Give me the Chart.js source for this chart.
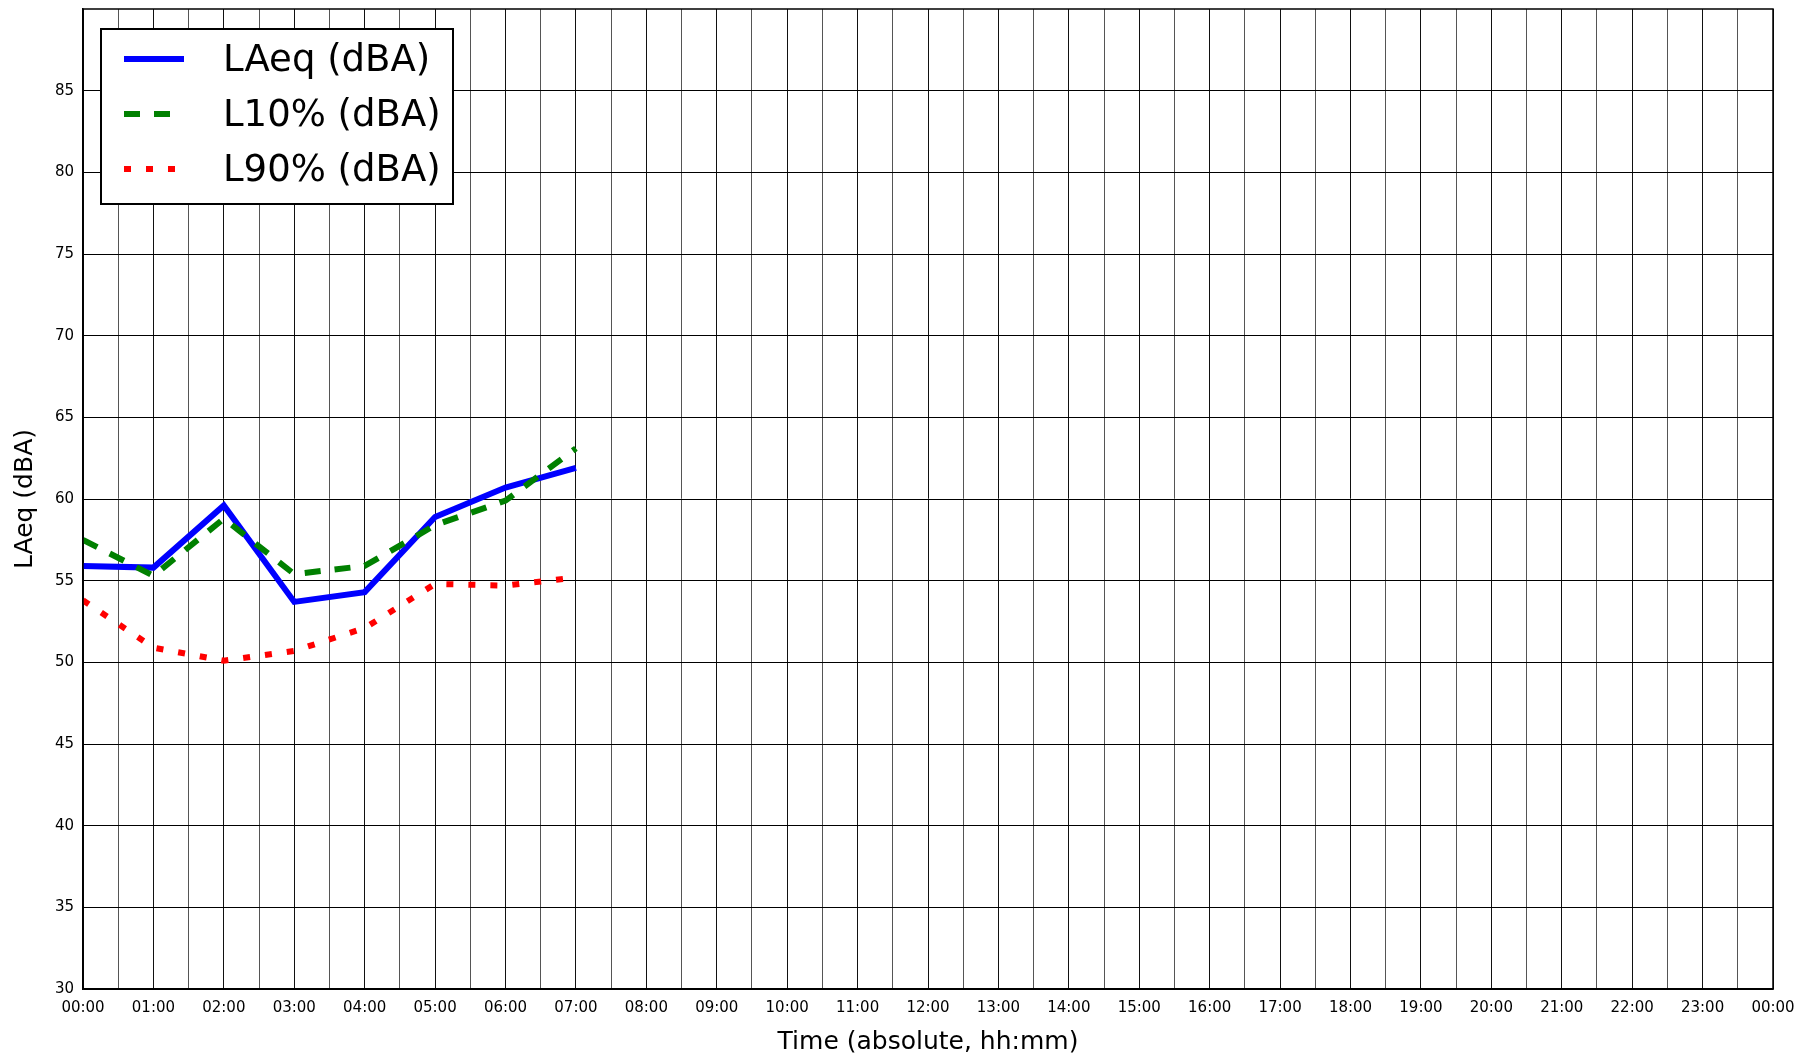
<!DOCTYPE html>
<html>
<head>
<meta charset="utf-8">
<title>LAeq</title>
<script src="https://cdn.jsdelivr.net/npm/chart.js"></script>
<style>
  html, body { margin: 0; padding: 0; background: #fff; }
  canvas { display: block; }
</style>
</head>
<body>
<canvas id="noiseChart" width="1811" height="1056"></canvas>
<script>
  // Measured levels, one sample per hour
  const sampleTimes = ['00:00', '01:00', '02:00', '03:00', '04:00', '05:00', '06:00', '07:00'];
  const laeqValues = [55.9, 55.8, 59.6, 53.7, 54.3, 58.9, 60.7, 61.9];
  const l10Values = [57.5, 55.3, 58.8, 55.4, 55.9, 58.4, 59.9, 63.1];
  const l90Values = [53.8, 50.9, 50.1, 50.7, 52.1, 54.8, 54.7, 55.2];

  const seriesLabels = ['LAeq (dBA)', 'L10% (dBA)', 'L90% (dBA)'];

  // Axis ticks
  const hourLabels = ['00:00', '01:00', '02:00', '03:00', '04:00', '05:00', '06:00', '07:00',
    '08:00', '09:00', '10:00', '11:00', '12:00', '13:00', '14:00', '15:00', '16:00', '17:00',
    '18:00', '19:00', '20:00', '21:00', '22:00', '23:00', '00:00'];
  const yTicks = [30, 35, 40, 45, 50, 55, 60, 65, 70, 75, 80, 85];
  const yMin = 30;
  const yMax = 90;

  function toMinutes(t) {
    const parts = t.split(':');
    return Number(parts[0]) * 60 + Number(parts[1]);
  }

  function toPoints(values) {
    return values.map((v, i) => ({ x: toMinutes(sampleTimes[i]), y: v }));
  }

  const dayMinutes = (hourLabels.length - 1) * 60;

  // Frame round the plot area
  const plotFrame = {
    id: 'plotFrame',
    afterDraw(chart) {
      const { ctx, chartArea } = chart;
      ctx.save();
      ctx.lineWidth = 1.5;
      ctx.strokeStyle = '#000';
      ctx.strokeRect(chartArea.left, chartArea.top,
        chartArea.right - chartArea.left, chartArea.bottom - chartArea.top);
      ctx.restore();
    }
  };

  // Matplotlib-like boxed legend in the upper left corner
  const legendBox = {
    id: 'legendBox',
    afterDraw(chart) {
      const { ctx, chartArea } = chart;
      const x = chartArea.left + 18;
      const y = chartArea.top + 20;
      const w = 352;
      const h = 175;
      ctx.save();
      ctx.fillStyle = '#fff';
      ctx.fillRect(x, y, w, h);
      ctx.lineWidth = 2;
      ctx.strokeStyle = '#000';
      ctx.strokeRect(x, y, w, h);
      ctx.font = '37px "DejaVu Sans"';
      ctx.textBaseline = 'middle';
      chart.data.datasets.forEach((ds, i) => {
        const rowY = y + 30 + i * 55;
        ctx.beginPath();
        ctx.setLineDash(ds.borderDash || []);
        ctx.lineWidth = ds.borderWidth;
        ctx.strokeStyle = ds.borderColor;
        ctx.lineCap = 'butt';
        ctx.moveTo(x + 23, rowY);
        ctx.lineTo(x + 83, rowY);
        ctx.stroke();
        ctx.setLineDash([]);
        ctx.fillStyle = '#000';
        ctx.fillText(ds.label, x + 122, rowY + 2);
      });
      ctx.restore();
    }
  };

  const ctx = document.getElementById('noiseChart').getContext('2d');
  const noiseChart = new Chart(ctx, {
    type: 'line',
    data: {
      datasets: [
        {
          label: seriesLabels[0],
          data: toPoints(laeqValues),
          borderColor: '#0000ff',
          borderWidth: 6,
          order: 3
        },
        {
          label: seriesLabels[1],
          data: toPoints(l10Values),
          borderColor: '#008000',
          borderWidth: 6,
          borderDash: [16, 14],
          order: 2
        },
        {
          label: seriesLabels[2],
          data: toPoints(l90Values),
          borderColor: '#ff0000',
          borderWidth: 6,
          borderDash: [7, 15],
          order: 1
        }
      ]
    },
    options: {
      responsive: false,
      animation: false,
      devicePixelRatio: 1,
      layout: { padding: { top: 9, right: 38, left: 0, bottom: 0 } },
      elements: {
        point: { radius: 0 },
        line: { tension: 0, fill: false, borderJoinStyle: 'miter', borderCapStyle: 'butt' }
      },
      plugins: {
        legend: { display: false },
        tooltip: { enabled: false }
      },
      scales: {
        x: {
          type: 'linear',
          min: 0,
          max: dayMinutes,
          afterBuildTicks(scale) {
            const ticks = [];
            for (let m = 0; m <= dayMinutes; m += 30) ticks.push({ value: m });
            scale.ticks = ticks;
          },
          afterFit(scale) {
            scale.height = 67;
            scale.paddingLeft = 0;
            scale.paddingRight = 0;
          },
          ticks: {
            autoSkip: false,
            maxRotation: 0,
            padding: 10,
            color: '#000',
            font: { family: 'DejaVu Sans', size: 15 },
            callback: (value) => (value % 60 === 0 ? hourLabels[value / 60] : '')
          },
          grid: {
            drawTicks: false,
            lineWidth: 1,
            color: (c) => (c.tick && c.tick.value % 60 === 0 ? '#111' : '#555')
          },
          border: { color: '#000', width: 1.5 },
          title: {
            display: true,
            text: 'Time (absolute, hh:mm)',
            color: '#000',
            font: { family: 'DejaVu Sans', size: 25 },
            padding: { top: 0, bottom: -1 }
          }
        },
        y: {
          min: yMin,
          max: yMax,
          afterBuildTicks(scale) {
            scale.ticks = yTicks.map((v) => ({ value: v }));
          },
          afterFit(scale) {
            scale.width = 83;
            scale.paddingTop = 0;
            scale.paddingBottom = 0;
          },
          ticks: {
            padding: 9,
            color: '#000',
            font: { family: 'DejaVu Sans', size: 15 }
          },
          grid: { drawTicks: false, lineWidth: 1, color: '#000' },
          border: { color: '#000', width: 1.5 },
          title: {
            display: true,
            text: 'LAeq (dBA)',
            color: '#000',
            font: { family: 'DejaVu Sans', size: 25 },
            padding: { top: 10, bottom: 0 }
          }
        }
      }
    },
    plugins: [plotFrame, legendBox]
  });
</script>
</body>
</html>
